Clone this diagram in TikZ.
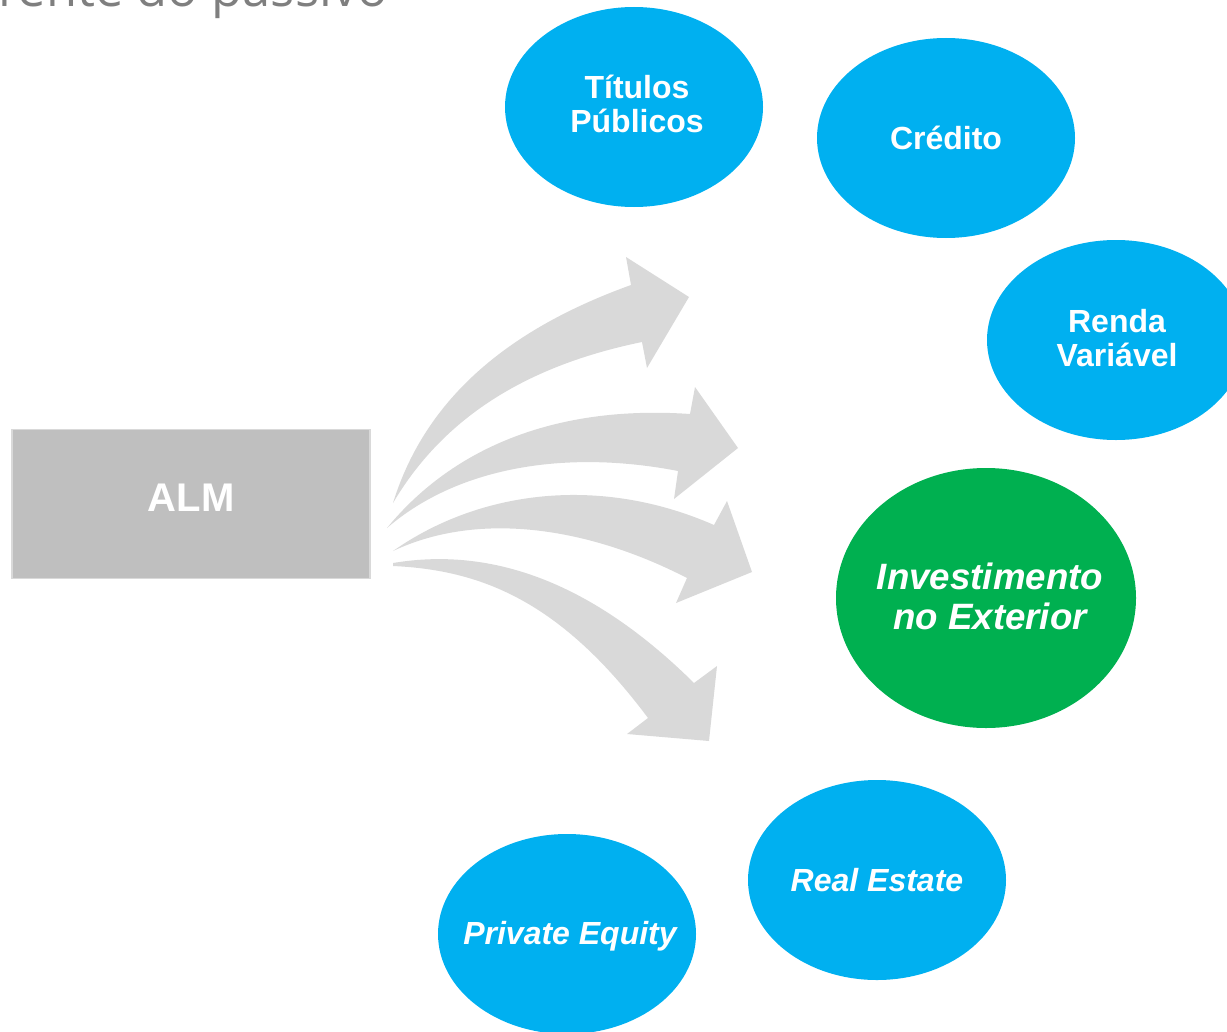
\documentclass[tikz,border=0pt]{standalone}
\usepackage{fontspec}
\setmainfont{Liberation Sans}
\newfontfamily\headfont{Open Sans}
\usetikzlibrary{shapes.geometric}
\definecolor{skyblue}{HTML}{00B0F0}
\definecolor{leafgreen}{HTML}{00B050}
\definecolor{arrowgray}{HTML}{D9D9D9}
\definecolor{boxgray}{HTML}{BFBFBF}
\definecolor{headgray}{HTML}{7F7F7F}
\tikzset{
  bubble/.style={ellipse, fill=skyblue, text=white, font=\bfseries\fontsize{24}{25.5}\selectfont,
    align=center, inner xsep=-25pt, inner ysep=0pt, minimum width=258*0.75pt, minimum height=200*0.75pt},
  bigbubble/.style={bubble, fill=leafgreen, minimum width=300*0.75pt, minimum height=260*0.75pt},
  slanted/.style={font=\bfseries\itshape\fontsize{24}{29}\selectfont},
  flow/.style={fill=arrowgray, draw=none},
}
\begin{document}
\begin{tikzpicture}[x=0.75pt, y=-0.75pt]
\useasboundingbox (0,0) rectangle (1227,1031);

% heading, partly above the page
\node[anchor=base west, inner sep=0pt, text=headgray, font=\headfont\fontsize{38}{40}\selectfont]
  (head) at (-2,7) {rente do passivo};

% source box
\node[draw=arrowgray, line width=1pt, fill=boxgray, minimum width=358*0.75pt, minimum height=149*0.75pt,
  inner sep=0pt] (alm) at (191,504) {};
\node[text=white, font=\bfseries\fontsize{30}{32}\selectfont] (almtext) at (191,498) {ALM};

% target bubbles
\node[bubble] (tit) at (634,107) {};
\node[text=white, font=\bfseries\fontsize{24}{25.5}\selectfont, align=center] (tittext) at (637,104) {Títulos\\Públicos};
\node[bubble] (cred) at (946,138) {Crédito};
\node[bubble] (renda) at (1116,340) {};
\node[text=white, font=\bfseries\fontsize{24}{25.5}\selectfont, align=center] (rendatext) at (1117,338) {Renda\\Variável};
\node[bigbubble] (ext) at (986,598) {};
\node[text=white, font=\bfseries\itshape\fontsize{27.5}{30}\selectfont, align=center] (exttext) at (990,596) {Investimento\\no Exterior};
\node[bubble, slanted] (re) at (877,880) {Real Estate};
\node[bubble, slanted] (pe) at (567,934) {};
\node[text=white, font=\bfseries\itshape\fontsize{24}{29}\selectfont] (petext) at (570,936) {Private Equity};

% curved block arrows fanning out of the box
\fill[flow] (393,503) .. controls (428,390) and (520,325) .. (631,285)
  -- (626,257) -- (689,297) -- (647,368) -- (642,342)
  .. controls (530,365) and (445,415) .. (393,503) -- cycle;
\fill[flow] (387,528) .. controls (455,445) and (560,405) .. (690,414)
  -- (695,387) -- (738,448) -- (674,499) -- (678,471)
  .. controls (570,450) and (460,465) .. (387,528) -- cycle;
\fill[flow] (393,551) .. controls (480,490) and (600,475) .. (714,525)
  -- (727,501) -- (752,572) -- (676,603) -- (687,578)
  .. controls (590,528) and (480,510) .. (393,551) -- cycle;
\fill[flow] (393,563) .. controls (500,545) and (600,590) .. (694,683)
  -- (717,666) -- (709,741) -- (627,734) -- (648,718)
  .. controls (560,600) and (480,570) .. (393,566) -- cycle;
\end{tikzpicture}
\end{document}
